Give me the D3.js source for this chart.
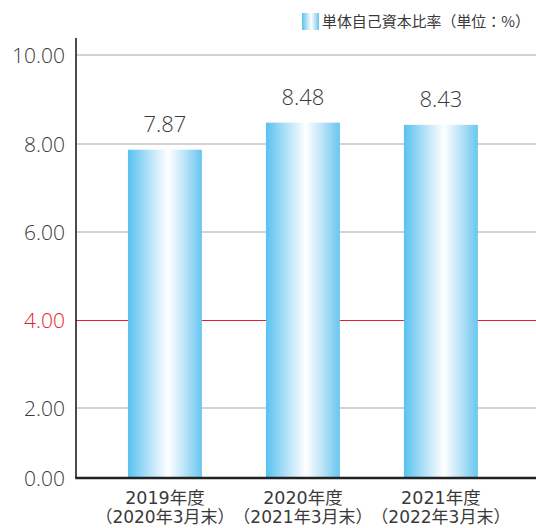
<!DOCTYPE html>
<html><head><meta charset="utf-8">
<script src="https://cdn.jsdelivr.net/npm/d3@7/dist/d3.min.js"></script>
<style>
html,body{margin:0;padding:0;background:#fff;}
svg{display:block;}
</style></head>
<body>
<script>
const categories = ["2019年度", "2020年度", "2021年度"];
const subLabels = ["（2020年3月末）", "（2021年3月末）", "（2022年3月末）"];
const values = [7.87, 8.48, 8.43];
const valueLabels = ["7.87", "8.48", "8.43"];
const tickValues = [0, 2, 4, 6, 8, 10];
const tickLabels = ["0.00", "2.00", "4.00", "6.00", "8.00", "10.00"];
const legendLabel = "単体自己資本比率（単位：%）";
const highlightTick = 4;

const W = 536, H = 528;
const svg = d3.select("body").append("svg").attr("width", W).attr("height", H);

const defs = svg.append("defs");
const grad = defs.append("linearGradient").attr("id", "barGrad")
  .attr("x1", "0%").attr("x2", "100%").attr("y1", "0%").attr("y2", "0%");
grad.append("stop").attr("offset", "0%").attr("stop-color", "#58c2f0");
grad.append("stop").attr("offset", "28%").attr("stop-color", "#b3e1f8");
grad.append("stop").attr("offset", "54%").attr("stop-color", "#ffffff");
grad.append("stop").attr("offset", "76%").attr("stop-color", "#bde4f8");
grad.append("stop").attr("offset", "100%").attr("stop-color", "#68c6f0");

const left = 76, right = 536, bottom = 478;
const y = d3.scaleLinear().domain(tickValues).range([478, 408, 320, 232, 144, 55]);
const x = d3.scaleBand().domain(categories).range([left, right])
  .paddingInner(0.464).paddingOuter(0.399).align(0.472);

const font = "'DejaVu Sans', 'Noto Sans CJK JP', sans-serif";
const cjkFont = "'Noto Sans CJK JP', sans-serif";

// gridlines
svg.append("g").selectAll("line").data(tickValues.filter(d => d !== 0)).join("line")
  .attr("x1", left).attr("x2", right)
  .attr("y1", d => y(d)).attr("y2", d => y(d))
  .attr("stroke", d => d === highlightTick ? "#e61e2d" : "#c4c4c4")
  .attr("stroke-width", d => d === highlightTick ? 1 : 1.5)
  .attr("shape-rendering", d => d === highlightTick ? "crispEdges" : "auto");

// y tick labels
svg.append("g").selectAll("text").data(tickValues).join("text")
  .attr("x", 65).attr("y", d => y(d))
  .attr("dy", "0.36em")
  .attr("text-anchor", "end")
  .attr("font-family", "'Open Sans', sans-serif")
  .attr("font-weight", 300)
  .attr("font-size", 21)
  .attr("fill", (d) => d === highlightTick ? "#e61e2d" : "#3a3a3a")
  .text((d, i) => tickLabels[i]);

// bars
svg.append("g").selectAll("rect").data(values).join("rect")
  .attr("x", (d, i) => x(categories[i]))
  .attr("width", x.bandwidth())
  .attr("y", d => y(d))
  .attr("height", d => y(0) - y(d))
  .attr("fill", "url(#barGrad)");

// value labels
svg.append("g").selectAll("text").data(values).join("text")
  .attr("x", (d, i) => x(categories[i]) + x.bandwidth() / 2)
  .attr("y", d => y(d) - 18)
  .attr("text-anchor", "middle")
  .attr("font-family", "'Open Sans', sans-serif")
  .attr("font-weight", 300)
  .attr("font-size", 22)
  .attr("fill", "#3a3a3a")
  .text((d, i) => valueLabels[i]);

// axes lines
svg.append("line").attr("x1", left).attr("x2", left).attr("y1", 38).attr("y2", bottom)
  .attr("stroke", "#111").attr("stroke-width", 1.5);
svg.append("line").attr("x1", left - 0.75).attr("x2", right).attr("y1", bottom).attr("y2", bottom)
  .attr("stroke", "#222").attr("stroke-width", 2.5);

// x labels
const xl = svg.append("g").selectAll("g").data(categories).join("g")
  .attr("transform", d => `translate(${x(d) + x.bandwidth() / 2},0)`);
xl.append("text").attr("y", 498).attr("dy", "0.36em").attr("text-anchor", "middle")
  .attr("font-family", font).attr("font-size", 17.5).attr("fill", "#3a3a3a")
  .text(d => d);
xl.append("text").attr("y", 517).attr("dy", "0.36em").attr("text-anchor", "middle")
  .attr("font-family", font).attr("font-size", 17).attr("fill", "#3a3a3a")
  .text((d, i) => subLabels[i]);

// legend
svg.append("rect").attr("x", 302).attr("y", 13).attr("width", 17).attr("height", 17)
  .attr("fill", "url(#barGrad)");
const lt = svg.append("text").attr("x", 322).attr("y", 21.5).attr("dy", "0.36em")
  .attr("font-family", cjkFont).attr("font-size", 16).attr("fill", "#3a3a3a")
  .text(legendLabel);
const maxW = 208;
const len = lt.node().getComputedTextLength();
if (len > maxW) lt.attr("font-size", 16 * maxW / len);
</script>
</body></html>
